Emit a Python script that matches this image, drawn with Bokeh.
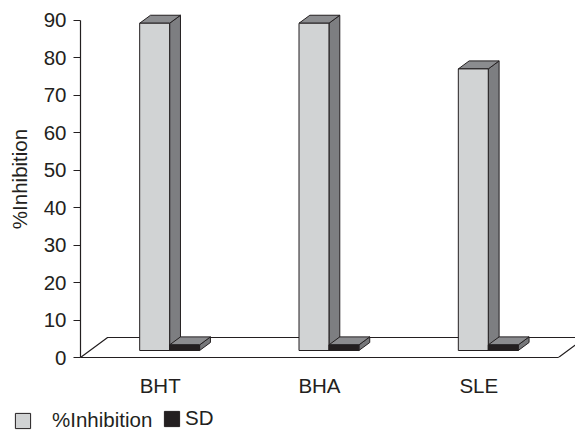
from bokeh.plotting import figure
from bokeh.models import Range1d, FixedTicker, Legend, LegendItem
from bokeh.layouts import column, row
from bokeh.embed import file_html
from bokeh.resources import INLINE

# ---------------- data ----------------
categories = ["BHT", "BHA", "SLE"]
inhibition = [87.4, 87.4, 75.2]
sd = [1.5, 1.5, 1.5]
y_ticks = [0, 10, 20, 30, 40, 50, 60, 70, 80, 90]
series_names = ["%Inhibition", "SD"]

# ---------------- style ----------------
FONT = "Liberation Sans"
FS = "20.5px"
TXT = "#231f20"
EDGE = "#231f20"
FRONT_MAIN = "#d1d3d4"
SIDE_MAIN = "#7d7e81"
TOP_MAIN = "#8b8c8f"
FRONT_SD = "#231f20"
SIDE_SD = "#76777a"
TOP_SD = "#8b8c8f"
BAR_W = 0.188          # bar width in category units
FLOOR_DX, FLOOR_DY = 0.17, 5.34   # depth vector of the floor (x units, value units)
BAR_D0 = 0.35          # depth fraction of bar front face
BAR_D = 0.40           # depth fraction of bar thickness

n = len(categories)
p = figure(width=575, height=400, x_range=Range1d(0, 3.107), y_range=Range1d(0, 95.34),
           output_backend="svg", toolbar_location=None,
           min_border_left=80, min_border_right=0, min_border_top=0, min_border_bottom=43)
p.outline_line_color = None
p.grid.visible = False
p.background_fill_color = "white"

# floor
p.patch([0, n, n + FLOOR_DX, FLOOR_DX], [0, 0, FLOOR_DY, FLOOR_DY],
        fill_color="white", line_color=EDGE, line_width=1.2)

ox, oy = BAR_D0 * FLOOR_DX, BAR_D0 * FLOOR_DY
bx, by = BAR_D * FLOOR_DX, BAR_D * FLOOR_DY


def box(xl, xr, h):
    y0, y1 = oy, oy + h
    front = ([xl, xr, xr, xl], [y0, y0, y1, y1])
    side = ([xr, xr + bx, xr + bx, xr], [y0, y0 + by, y1 + by, y1])
    top = ([xl, xr, xr + bx, xl + bx], [y1, y1, y1 + by, y1 + by])
    return front, side, top


def faces(values, left_off):
    fr, si, to = ([], []), ([], []), ([], [])
    for i, v in enumerate(values):
        c = i + 0.5
        xl = c + left_off + ox
        f, s, t = box(xl, xl + BAR_W, v)
        for acc, part in ((fr, f), (si, s), (to, t)):
            acc[0].append(part[0])
            acc[1].append(part[1])
    return fr, si, to


m_front, m_side, m_top = faces(inhibition, -BAR_W)
s_front, s_side, s_top = faces(sd, 0.0)

p.patches(m_side[0], m_side[1], fill_color=SIDE_MAIN, line_color=EDGE, line_width=1)
p.patches(m_top[0], m_top[1], fill_color=TOP_MAIN, line_color=EDGE, line_width=1)
p.patches(m_front[0], m_front[1], fill_color=FRONT_MAIN, line_color=EDGE, line_width=1)
p.patches(s_side[0], s_side[1], fill_color=SIDE_SD, line_color=EDGE, line_width=1)
p.patches(s_top[0], s_top[1], fill_color=TOP_SD, line_color=EDGE, line_width=1)
p.patches(s_front[0], s_front[1], fill_color=FRONT_SD, line_color=EDGE, line_width=1)

# axes
xa = p.xaxis[0]
xa.ticker = FixedTicker(ticks=[i + 0.5 for i in range(n)])
xa.major_label_overrides = {i + 0.5: c for i, c in enumerate(categories)}
xa.bounds = (0, n)
xa.major_tick_out = 0
xa.major_tick_in = 0
xa.minor_tick_out = 0
xa.minor_tick_in = 0
xa.axis_line_color = EDGE
xa.axis_line_width = 1.2
xa.major_label_standoff = 16
xa.major_label_text_font = FONT
xa.major_label_text_font_size = FS
xa.major_label_text_color = TXT

ya = p.yaxis[0]
ya.ticker = FixedTicker(ticks=y_ticks)
ya.bounds = (0, 90)
ya.major_tick_out = 7
ya.major_tick_in = 0
ya.minor_tick_out = 0
ya.minor_tick_in = 0
ya.axis_line_color = EDGE
ya.axis_line_width = 1.2
ya.major_tick_line_color = EDGE
ya.major_tick_line_width = 1.2
ya.major_label_standoff = 7
ya.major_label_text_font = FONT
ya.major_label_text_font_size = FS
ya.major_label_text_color = TXT
ya.axis_label = "%Inhibition"
ya.axis_label_standoff = 10
ya.axis_label_text_font = FONT
ya.axis_label_text_font_size = FS
ya.axis_label_text_font_style = "normal"
ya.axis_label_text_color = TXT

# ---------------- legend strip ----------------
# key renderers share the bar data; the strip's ranges lie away from it,
# so only their legend swatches are seen
lg_fig = figure(width=575, height=30, x_range=Range1d(100, 101), y_range=Range1d(100, 101),
                output_backend="svg", toolbar_location=None,
                x_axis_type=None, y_axis_type=None, min_border=0,
                min_border_left=0, min_border_right=0, min_border_top=0, min_border_bottom=0)
lg_fig.outline_line_color = None
lg_fig.grid.visible = False
k_main = lg_fig.patches(m_front[0], m_front[1], fill_color=FRONT_MAIN, line_color=EDGE, line_width=1)
k_sd = lg_fig.patches(s_front[0], s_front[1], fill_color=FRONT_SD, line_color=EDGE, line_width=1)


def make_legend(label, rend, loc, standoff):
    lg = Legend(items=[LegendItem(label=label, renderers=[rend])], location=loc,
                orientation="horizontal", glyph_width=19, glyph_height=19,
                label_standoff=standoff, padding=0, margin=0, spacing=0,
                border_line_color=None, background_fill_alpha=0,
                label_text_font=FONT, label_text_font_size=FS, label_text_color=TXT)
    lg_fig.add_layout(lg)
    return lg


make_legend(series_names[0], k_main, (13, -2), 20)
make_legend(series_names[1], k_sd, (162, 0), 4)

open("out.html", "w").write(file_html(column(p, row(lg_fig, spacing=0), spacing=0), INLINE))
